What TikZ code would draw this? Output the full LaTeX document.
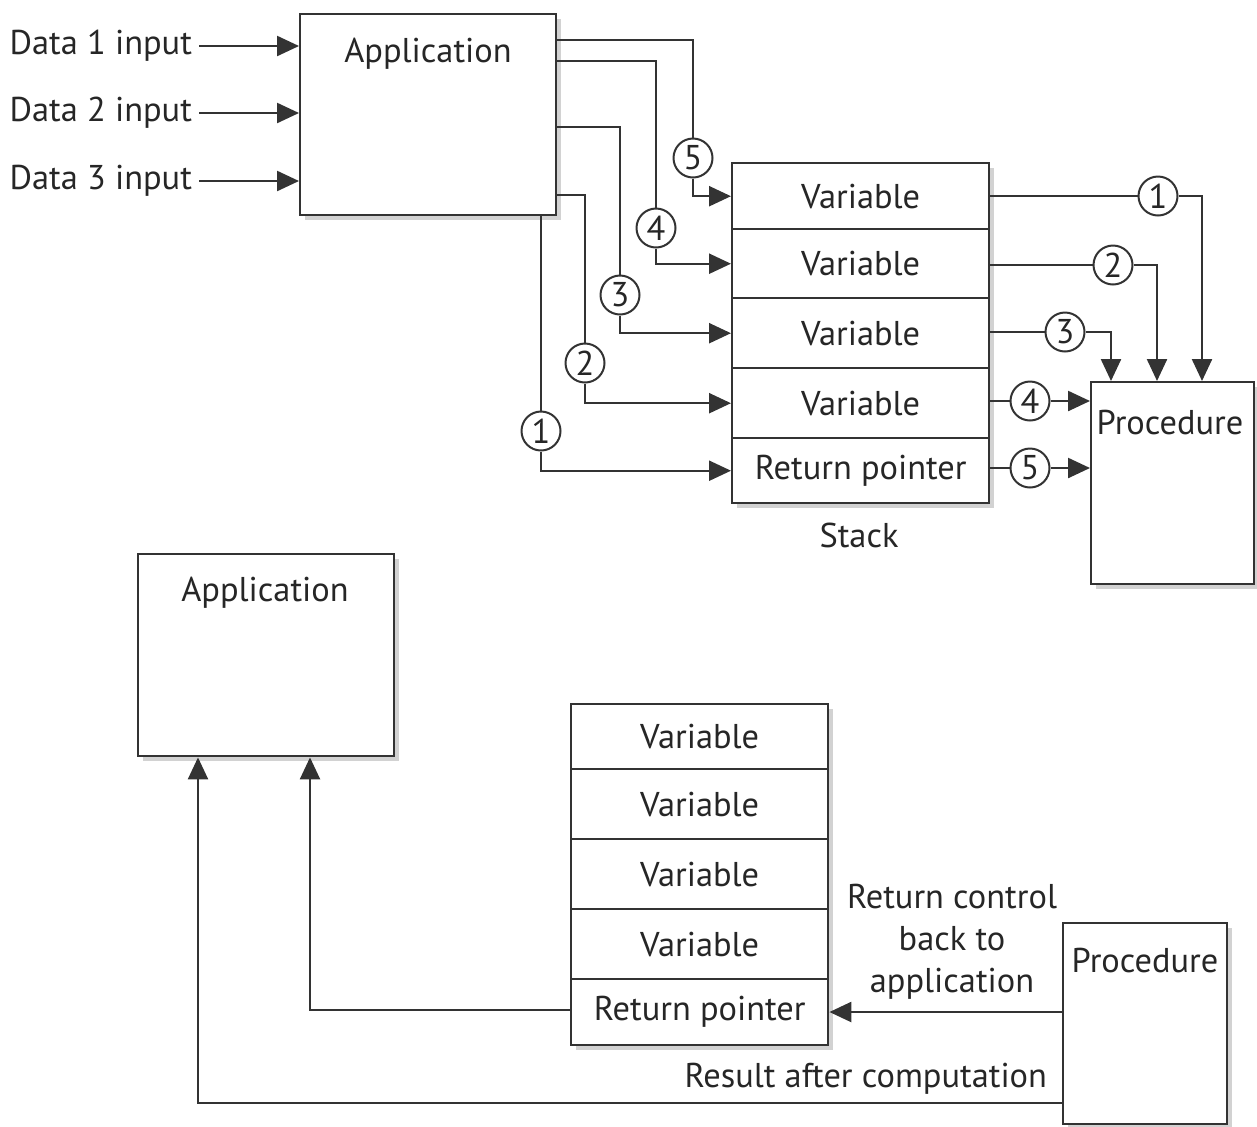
\documentclass[tikz,border=0pt]{standalone}
\usepackage{fontspec}
\setmainfont{PT Sans}
\usetikzlibrary{arrows.meta,shadows}
\begin{document}
\begin{tikzpicture}[x=0.5pt,y=-0.5pt,
  every node/.style={font=\fontsize{17.2}{21}\selectfont, text=black!85},
  box/.style={draw=black!80, line width=1.2pt, fill=white, rectangle, inner sep=0pt,
    drop shadow={shadow xshift=2.2pt, shadow yshift=-2.2pt, fill=black!22, opacity=0.8}},
  cell/.style={box, minimum width=128.5pt, minimum height=#1, anchor=north west},
  numc/.style={draw=black!80, line width=1pt, circle, fill=white, minimum size=19.5pt, inner sep=0pt},
  wire/.style={draw=black!80, line width=1.2pt},
  arr/.style={wire, -{Triangle[length=11pt,width=10pt]}}
]
\useasboundingbox (0,0) rectangle (1257,1126);

% ---------- top part ----------
\node[cell=100.5pt, minimum width=128pt] (app1) at (299,13) {};
\node (app1t) at (428,54) {Application};

\node[anchor=east] (in1) at (199,46) {Data 1 input};
\node[anchor=east] (in2) at (199,113) {Data 2 input};
\node[anchor=east] (in3) at (199,181) {Data 3 input};
\draw[arr] (in1.east) -- (app1.west |- in1.east);
\draw[arr] (in2.east) -- (app1.west |- in2.east);
\draw[arr] (in3.east) -- (app1.west |- in3.east);

\node[cell=33pt] (v1) at (731,162) {Variable};
\node[cell=34.5pt] (v2) at (731,228) {Variable};
\node[cell=35pt] (v3) at (731,297) {Variable};
\node[cell=35pt] (v4) at (731,367) {Variable};
\node[cell=32.5pt] (rp) at (731,437) {Return pointer};
\node (stk) at (859,535) {Stack};

\node[cell=101pt, minimum width=81.5pt] (proc1) at (1090,381) {};
\node (proc1t) at (1170,423) {Procedure};

% circles on the left
\node[numc] (a5) at (693,158) {5};
\node[numc] (a4) at (656,228) {4};
\node[numc] (a3) at (620,295) {3};
\node[numc] (a2) at (585,363) {2};
\node[numc] (a1) at (541,431) {1};

\draw[wire] (app1.east |- 0,40) -| (a5);
\draw[arr] (a5) |- (v1.west);
\draw[wire] (app1.east |- 0,61) -| (a4);
\draw[arr] (a4) |- (v2.west);
\draw[wire] (app1.east |- 0,127) -| (a3);
\draw[arr] (a3) |- (v3.west);
\draw[wire] (app1.east |- 0,195) -| (a2);
\draw[arr] (a2) |- (v4.west);
\draw[wire] (app1.south -| a1) -- (a1);
\draw[arr] (a1) |- (rp.west);

% circles on the right
\node[numc] (b1) at (1158,196) {1};
\node[numc] (b2) at (1113,265) {2};
\node[numc] (b3) at (1065,332) {3};
\node[numc] (b4) at (1030,401) {4};
\node[numc] (b5) at (1030,468) {5};

\draw[wire] (v1.east |- b1) -- (b1);
\draw[arr] (b1) -| (proc1.north -| 1202,0);
\draw[wire] (v2.east |- b2) -- (b2);
\draw[arr] (b2) -| (proc1.north -| 1157,0);
\draw[wire] (v3.east |- b3) -- (b3);
\draw[arr] (b3) -| (proc1.north -| 1111,0);
\draw[wire] (v4.east |- b4) -- (b4);
\draw[arr] (b4) -- (proc1.west |- b4);
\draw[wire] (rp.east |- b5) -- (b5);
\draw[arr] (b5) -- (proc1.west |- b5);

% ---------- bottom part ----------
\node[cell=101pt, minimum width=128pt] (app2) at (137,553) {};
\node (app2t) at (265,593) {Application};

\node[cell=32.5pt] (w1) at (570,703) {Variable};
\node[cell=35pt] (w2) at (570,768) {Variable};
\node[cell=35pt] (w3) at (570,838) {Variable};
\node[cell=35pt] (w4) at (570,908) {Variable};
\node[cell=33pt] (rp2) at (570,978) {Return pointer};

\node[cell=100.5pt, minimum width=82pt] (proc2) at (1062,922) {};
\node (proc2t) at (1145,961) {Procedure};

\node[align=center] (lbl1) at (952,942) {Return control\\back to\\application};
\node[anchor=east] (lbl2) at (1054,1079) {Result after computation};

\draw[arr] (proc2.west |- 0,1012) -- (rp2.east |- 0,1012);
\draw[arr] (rp2.west |- 0,1010) -| (app2.south -| 310,0);
\draw[arr] (proc2.west |- 0,1103) -| (app2.south -| 198,0);
\end{tikzpicture}
\end{document}
